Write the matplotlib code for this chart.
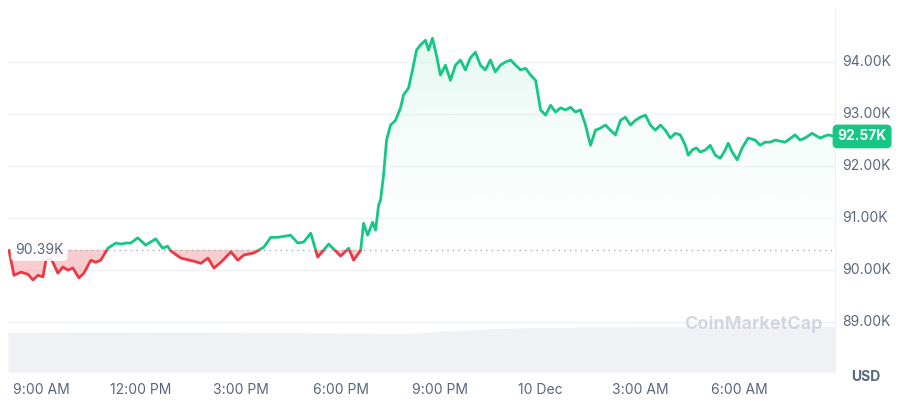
import numpy as np
import matplotlib.pyplot as plt
from matplotlib.patches import Rectangle

# hours since 8:00 AM, price in K USD
points = [
    (0.03, 90.38), (0.18, 89.90), (0.39, 89.96), (0.60, 89.92), (0.75, 89.81), (0.90, 89.90),
    (1.05, 89.87), (1.14, 90.19), (1.29, 90.23), (1.50, 89.94), (1.65, 90.06), (1.80, 90.00),
    (1.95, 90.04), (2.13, 89.85), (2.28, 89.94), (2.49, 90.19), (2.64, 90.15), (2.79, 90.19),
    (3.00, 90.42), (3.24, 90.52), (3.39, 90.50), (3.54, 90.52), (3.69, 90.52), (3.90, 90.62),
    (4.14, 90.48), (4.44, 90.60), (4.65, 90.42), (4.80, 90.46), (4.89, 90.37), (5.20, 90.23),
    (5.59, 90.17), (5.80, 90.13), (6.01, 90.23), (6.19, 90.04), (6.40, 90.15), (6.70, 90.35),
    (6.91, 90.19), (7.09, 90.29), (7.39, 90.33), (7.69, 90.44), (7.90, 90.63), (8.11, 90.63),
    (8.50, 90.67), (8.71, 90.52), (8.89, 90.54), (9.10, 90.71), (9.31, 90.25), (9.64, 90.50),
    (10.00, 90.27), (10.24, 90.42), (10.39, 90.19), (10.60, 90.38), (10.69, 90.90), (10.81, 90.67),
    (10.96, 90.92), (11.05, 90.77), (11.14, 91.25), (11.20, 91.35), (11.29, 91.83), (11.38, 92.50),
    (11.50, 92.79), (11.65, 92.88), (11.80, 93.12), (11.89, 93.37), (12.04, 93.50), (12.16, 93.85),
    (12.28, 94.23), (12.40, 94.33), (12.55, 94.42), (12.64, 94.23), (12.76, 94.46), (12.88, 94.13),
    (13.00, 93.75), (13.15, 93.94), (13.30, 93.65), (13.45, 93.94), (13.60, 94.04), (13.75, 93.85),
    (13.90, 94.08), (14.05, 94.19), (14.20, 93.94), (14.35, 93.85), (14.50, 94.04), (14.65, 93.81),
    (14.80, 93.94), (14.95, 94.00), (15.11, 94.04), (15.26, 93.94), (15.41, 93.85), (15.56, 93.88),
    (15.71, 93.75), (15.86, 93.65), (16.01, 93.08), (16.16, 92.98), (16.31, 93.17), (16.46, 93.04),
    (16.61, 93.12), (16.76, 93.08), (16.91, 93.13), (17.06, 93.04), (17.21, 93.08), (17.36, 92.79),
    (17.51, 92.40), (17.66, 92.69), (17.81, 92.73), (17.96, 92.79), (18.11, 92.69), (18.26, 92.60),
    (18.41, 92.88), (18.56, 92.94), (18.71, 92.79), (18.86, 92.88), (19.01, 92.94), (19.16, 92.98),
    (19.31, 92.79), (19.46, 92.69), (19.61, 92.79), (19.76, 92.69), (19.91, 92.54), (20.06, 92.63),
    (20.21, 92.60), (20.36, 92.40), (20.45, 92.21), (20.57, 92.31), (20.69, 92.35), (20.81, 92.27),
    (20.96, 92.31), (21.11, 92.40), (21.26, 92.21), (21.41, 92.15), (21.56, 92.31), (21.65, 92.44),
    (21.77, 92.27), (21.92, 92.12), (22.07, 92.35), (22.25, 92.54), (22.46, 92.50), (22.61, 92.40),
    (22.76, 92.46), (22.91, 92.46), (23.06, 92.50), (23.36, 92.46), (23.66, 92.60), (23.81, 92.50),
    (23.96, 92.54), (24.17, 92.63), (24.41, 92.54), (24.65, 92.60), (24.86, 92.57),
]
times = np.array([p[0] for p in points])
prices = np.array([p[1] for p in points])
baseline = 90.39
last_price = 92.57

# volume shown as a grey band at the bottom (height in price units)
vol_times = [0, 4, 8, 12, 14, 16, 20, 24.86]
vol_top = [88.80, 88.81, 88.80, 88.78, 88.86, 88.90, 88.91, 88.92]

tick_hours = [1, 4, 7, 10, 13, 16, 19, 22]
tick_labels = ['9:00 AM', '12:00 PM', '3:00 PM', '6:00 PM', '9:00 PM', '10 Dec', '3:00 AM', '6:00 AM']
ytick_vals = [89, 90, 91, 92, 93, 94]
ytick_labels = ['89.00K', '90.00K', '91.00K', '92.00K', '93.00K', '94.00K']

green = '#16c784'
red = '#ea3943'
grey = '#58667e'

plt.rcParams['font.family'] = ['Inter', 'DejaVu Sans']
fig = plt.figure(figsize=(9, 4), dpi=100)
ax = fig.add_axes([8 / 900, 28 / 400, 827 / 900, 364 / 400])
ymin, ymax = 88.04, 95.04
ax.set_xlim(0, 24.86)
ax.set_ylim(ymin, ymax)

for v in ytick_vals:
    ax.axhline(v, color='#eff2f5', lw=1, zorder=0)

ax.fill_between(vol_times, ymin, vol_top, color='#eff1f4', zorder=1, lw=0)

# green gradient fill above baseline
fill_g = ax.fill_between(times, baseline, prices, where=prices >= baseline,
                         interpolate=True, color='none', lw=0)
grad = np.linspace(0.05, 0.35, 256).reshape(-1, 1)
from matplotlib.colors import LinearSegmentedColormap
cm = LinearSegmentedColormap.from_list('g', [(1, 1, 1, 0), (0.09, 0.78, 0.52, 1)])
img = ax.imshow(grad, extent=[0, 24.86, baseline, 94.6], origin='lower', cmap=cm,
                vmin=0, vmax=1, aspect='auto', zorder=2)
img.set_clip_path(fill_g.get_paths()[0], transform=ax.transData) if fill_g.get_paths() else None
paths = fill_g.get_paths()
if paths:
    from matplotlib.path import Path
    comp = Path.make_compound_path(*paths)
    img.set_clip_path(comp, transform=ax.transData)

ax.fill_between(times, baseline, prices, where=prices < baseline, interpolate=True,
                color=red, alpha=0.25, lw=0, zorder=2)

up = Rectangle((0, baseline), 30, 10, transform=ax.transData)
dn = Rectangle((0, baseline - 10), 30, 10, transform=ax.transData)
lg, = ax.plot(times, prices, color=green, lw=2, zorder=4)
lg.set_clip_path(up)
lr, = ax.plot(times, prices, color=red, lw=2, zorder=4)
lr.set_clip_path(dn)

ax.axhline(baseline, color='#a6b0c3', lw=1, ls=(0, (1, 3)), zorder=3)

ax.set_xticks(tick_hours)
ax.set_xticklabels(tick_labels, fontsize=10, color=grey)
ax.set_yticks([])
ax.tick_params(axis='x', length=0, pad=8)
for s in ['top', 'left', 'bottom']:
    ax.spines[s].set_visible(False)
ax.spines['right'].set_color('#eff2f5')

for v, lab in zip(ytick_vals, ytick_labels):
    ax.text(1.009, (v - ymin) / (ymax - ymin), lab, transform=ax.transAxes,
            fontsize=10, color=grey, va='center', ha='left')
ax.text(1.02, -0.015, 'USD', transform=ax.transAxes, fontsize=10, color=grey,
        va='center', ha='left', fontweight='bold')
ax.text(1.003, (last_price - ymin) / (ymax - ymin), '92.57K', transform=ax.transAxes,
        fontsize=10, color='white', fontweight='bold', va='center', ha='left',
        bbox=dict(boxstyle='round,pad=0.35', fc=green, ec='none'))
ax.text(0.21, baseline, '90.39K', fontsize=10, color=grey, va='center', ha='left', zorder=5,
        bbox=dict(boxstyle='round,pad=0.3', fc='white', ec='none', alpha=0.9))
ax.text(0.985, 0.13, 'CoinMarketCap', transform=ax.transAxes, fontsize=13,
        color='#c8ced9', ha='right', va='center', zorder=5, fontweight='bold', alpha=0.8)

fig.savefig('out.png', dpi=100)
